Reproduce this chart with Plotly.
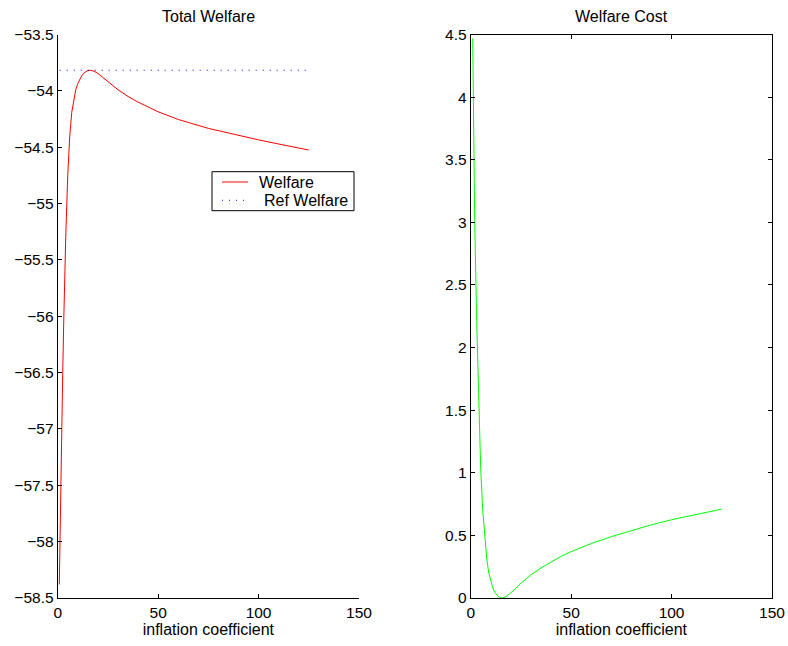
import plotly.graph_objects as go

# ---- data ----
welfare_x = [0.8, 1.0, 1.3, 1.6, 2.0, 2.5, 3.0, 3.5, 4.0, 5.0, 6.0, 7.0, 8.0, 9.0, 10, 11, 12,
             13, 14, 15, 16, 18, 20, 22, 25, 30, 35, 40, 50, 60, 75, 90, 100, 110, 125]
welfare_y = [-58.38, -58.12, -57.76, -57.42, -56.99, -56.50, -56.05, -55.65, -55.30, -54.75,
             -54.40, -54.19, -54.07, -53.99, -53.935, -53.895, -53.865, -53.843, -53.829,
             -53.82, -53.817, -53.825, -53.845, -53.873, -53.92, -53.99, -54.05, -54.10,
             -54.186, -54.254, -54.333, -54.396, -54.435, -54.472, -54.525]
ref_x = [1, 125]
ref_y = [-53.817, -53.817]

cost_x = [1, 1.5, 2, 3, 4, 5, 6, 7, 8, 9, 10, 11, 12, 13, 14, 15, 16, 18, 20, 22, 25,
          30, 35, 40, 45, 50, 60, 70, 75, 80, 90, 100, 110, 125]
cost_y = [4.47, 3.6, 3.0, 2.2, 1.5, 1.02, 0.70, 0.47, 0.31, 0.20, 0.13, 0.08, 0.045,
          0.022, 0.008, 0.001, 0.0, 0.015, 0.042, 0.07, 0.118, 0.185, 0.24, 0.29, 0.333,
          0.37, 0.435, 0.49, 0.515, 0.54, 0.585, 0.625, 0.66, 0.71]

x_ticks = [0, 50, 100, 150]
left_yticks = [-58.5, -58, -57.5, -57, -56.5, -56, -55.5, -55, -54.5, -54, -53.5]
right_yticks = [0, 0.5, 1, 1.5, 2, 2.5, 3, 3.5, 4, 4.5]

legend_names = ["Welfare", "Ref Welfare"]

FONT = "Liberation Sans, Arial, Helvetica, sans-serif"
W, H = 788, 646
TICKSIZE = 15.5
TXTSIZE = 16

fig = go.Figure()
fig.add_trace(go.Scatter(x=welfare_x, y=welfare_y, mode="lines", name=legend_names[0],
                         showlegend=False,
                         line=dict(color="#ff0000", width=1), xaxis="x", yaxis="y"))
fig.add_trace(go.Scatter(x=ref_x, y=ref_y, mode="lines", name=legend_names[1],
                         showlegend=False,
                         line=dict(color="#0000ff", width=1, dash="1px,6px"),
                         xaxis="x", yaxis="y"))
fig.add_trace(go.Scatter(x=cost_x, y=cost_y, mode="lines", name="Welfare Cost",
                         showlegend=False,
                         line=dict(color="#00ff00", width=1), xaxis="x2", yaxis="y2"))

L0, L1 = 57.7 / W, 359.0 / W
R0, R1 = 470.7 / W, 772.0 / W
B, T = (H - 598.0) / H, (H - 34.5) / H

axis_common = dict(showgrid=False, zeroline=False, showline=True, linecolor="black",
                   linewidth=1, ticks="inside", ticklen=4, tickcolor="black",
                   automargin=False,
                   tickfont=dict(family=FONT, size=TICKSIZE, color="black"))

fig.update_layout(
    width=W, height=H,
    margin=dict(l=0, r=0, t=0, b=0, autoexpand=False),
    paper_bgcolor="white", plot_bgcolor="white",
    font=dict(family=FONT, size=TXTSIZE, color="black"),
    xaxis=dict(domain=[L0, L1], range=[0, 150], tickvals=x_ticks, anchor="y",
               title=dict(text="inflation coefficient", standoff=2,
                          font=dict(family=FONT, size=TXTSIZE)),
               **axis_common),
    yaxis=dict(domain=[B, T], range=[-58.5, -53.5], tickvals=left_yticks, anchor="x",
               **axis_common),
    xaxis2=dict(domain=[R0, R1], range=[0, 150], tickvals=x_ticks, anchor="y2",
                mirror="ticks",
                title=dict(text="inflation coefficient", standoff=2,
                           font=dict(family=FONT, size=TXTSIZE)),
                **axis_common),
    yaxis2=dict(domain=[B, T], range=[0, 4.5], tickvals=right_yticks, anchor="x2",
                mirror="ticks", **axis_common),
    showlegend=False,
)

# subplot titles
fig.add_annotation(text="Total Welfare", xref="x domain", x=0.5, yref="paper",
                   y=(H - 16.7) / H, yanchor="middle", showarrow=False,
                   font=dict(family=FONT, size=TXTSIZE))
fig.add_annotation(text="Welfare Cost", xref="x2 domain", x=0.5, yref="paper",
                   y=(H - 16.7) / H, yanchor="middle", showarrow=False,
                   font=dict(family=FONT, size=TXTSIZE))

# legend box (MATLAB-style) in paper coordinates
def px(xp):
    return xp / W

def py(yp):
    return (H - yp) / H

fig.add_shape(type="rect", xref="paper", yref="paper",
              x0=px(212), x1=px(354), y0=py(210.7), y1=py(171.7),
              line=dict(color="black", width=1), fillcolor="white", layer="above")
fig.add_shape(type="line", xref="paper", yref="paper",
              x0=px(222), x1=px(248), y0=py(182), y1=py(182),
              line=dict(color="#ff0000", width=1), layer="above")
fig.add_shape(type="line", xref="paper", yref="paper",
              x0=px(222), x1=px(246), y0=py(200.3), y1=py(200.3),
              line=dict(color="#0000ff", width=1, dash="1px,6px"), layer="above")
fig.add_annotation(text=legend_names[0], xref="paper", yref="paper", x=px(256.5), y=py(182.5),
                   xanchor="left", yanchor="middle", showarrow=False,
                   font=dict(family=FONT, size=TXTSIZE))
fig.add_annotation(text=legend_names[1], xref="paper", yref="paper", x=px(261.5), y=py(200.5),
                   xanchor="left", yanchor="middle", showarrow=False,
                   font=dict(family=FONT, size=TXTSIZE))

fig.write_html("out.html")
